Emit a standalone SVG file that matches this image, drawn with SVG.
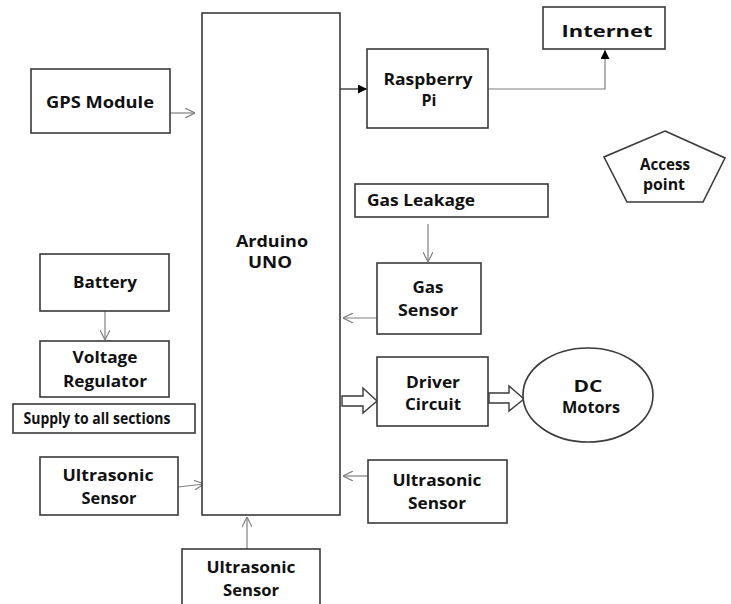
<svg xmlns="http://www.w3.org/2000/svg" width="731" height="604" viewBox="0 0 731 604">
<style>
.box{fill:#fff;stroke:#3a3a3a;stroke-width:1.6}
.t{font-family:"Open Sans","Liberation Sans",sans-serif;font-weight:bold;font-size:16px;fill:#111;text-anchor:middle}
.ln{fill:none;stroke:#808080;stroke-width:1.2}
.blk{fill:none;stroke:#3a3a3a;stroke-width:1.4}
.bar{fill:#fff;stroke:#3a3a3a;stroke-width:1.4}
</style>
<defs>
<marker id="open" viewBox="0 0 10 10" refX="10" refY="5" markerWidth="10" markerHeight="10" markerUnits="userSpaceOnUse" orient="auto">
<path d="M0,0 L10,5 L0,10" fill="none" stroke="#808080" stroke-width="1.2"/>
</marker>
<marker id="fill" viewBox="0 0 10 10" refX="10" refY="5" markerWidth="9" markerHeight="9" markerUnits="userSpaceOnUse" orient="auto">
<path d="M0,0 L10,5 L0,10 Z" fill="#000"/>
</marker>
</defs>
<rect width="731" height="604" fill="#fff"/>

<g id="connectors">
<line class="ln" x1="170" y1="113" x2="195" y2="113" marker-end="url(#open)"/>
<line class="blk" x1="340" y1="89" x2="367" y2="89" marker-end="url(#fill)"/>
<polyline class="ln" points="488,89 605,89 605,50" marker-end="url(#fill)"/>
<line class="ln" x1="428" y1="224" x2="428" y2="262" marker-end="url(#open)"/>
<line class="ln" x1="377" y1="318" x2="343" y2="318" marker-end="url(#open)"/>
<line class="ln" x1="105" y1="311" x2="105" y2="340" marker-end="url(#open)"/>
<line class="ln" x1="178" y1="487" x2="204" y2="484" marker-end="url(#open)"/>
<line class="ln" x1="368" y1="476" x2="343" y2="476" marker-end="url(#open)"/>
<line class="ln" x1="247" y1="549" x2="247" y2="517" marker-end="url(#open)"/>
<path class="bar" d="M342,396 L363,396 L363,388 L377,401 L363,413 L363,406 L342,406 Z"/>
<path class="bar" d="M489,393 L509,393 L509,386 L524,399 L509,411 L509,403 L489,403 Z"/>
</g>

<g id="arduino">
<rect class="box" x="202" y="13" width="138" height="502"/>
<text class="t" x="272" y="247" font-size="17" textLength="72" lengthAdjust="spacingAndGlyphs">Arduino</text>
<text class="t" x="270" y="268" font-size="17" textLength="44" lengthAdjust="spacingAndGlyphs">UNO</text>
</g>

<g id="gps">
<rect class="box" x="31" y="69" width="139" height="64"/>
<text class="t" x="100" y="108" font-size="17" textLength="108" lengthAdjust="spacingAndGlyphs">GPS Module</text>
</g>

<g id="raspberry">
<rect class="box" x="367" y="49" width="121" height="79"/>
<text class="t" x="428" y="85" font-size="17" textLength="89" lengthAdjust="spacingAndGlyphs">Raspberry</text>
<text class="t" x="429" y="106" font-size="17">Pi</text>
</g>

<g id="internet">
<rect class="box" x="543" y="7" width="122" height="42"/>
<text class="t" x="607" y="37" font-size="20" textLength="91" lengthAdjust="spacingAndGlyphs">Internet</text>
</g>

<g id="access-point">
<polygon class="box" points="665,131 725,158 703,202 627,202 604,157"/>
<text class="t" x="665" y="170" font-size="13.5" textLength="50" lengthAdjust="spacingAndGlyphs">Access</text>
<text class="t" x="664" y="190" font-size="13.5" textLength="42" lengthAdjust="spacingAndGlyphs">point</text>
</g>

<g id="gas-leakage">
<rect class="box" x="355" y="184" width="193" height="33"/>
<text class="t" x="421" y="206" font-size="15" textLength="108" lengthAdjust="spacingAndGlyphs">Gas Leakage</text>
</g>

<g id="gas-sensor">
<rect class="box" x="377" y="263" width="104" height="71"/>
<text class="t" x="428" y="293" font-size="16" textLength="31" lengthAdjust="spacingAndGlyphs">Gas</text>
<text class="t" x="428" y="316" font-size="16" textLength="60" lengthAdjust="spacingAndGlyphs">Sensor</text>
</g>

<g id="driver-circuit">
<rect class="box" x="377" y="357" width="111" height="69"/>
<text class="t" x="433" y="388" font-size="16" textLength="54" lengthAdjust="spacingAndGlyphs">Driver</text>
<text class="t" x="433" y="410" font-size="16" textLength="56" lengthAdjust="spacingAndGlyphs">Circuit</text>
</g>

<g id="dc-motors">
<ellipse class="box" cx="588" cy="395" rx="65" ry="47"/>
<text class="t" x="588" y="392" font-size="15" textLength="29" lengthAdjust="spacingAndGlyphs">DC</text>
<text class="t" x="591" y="413" font-size="15" textLength="58" lengthAdjust="spacingAndGlyphs">Motors</text>
</g>

<g id="battery">
<rect class="box" x="40" y="254" width="129" height="57"/>
<text class="t" x="105" y="288" font-size="16" textLength="64" lengthAdjust="spacingAndGlyphs">Battery</text>
</g>

<g id="voltage-regulator">
<rect class="box" x="40" y="341" width="129" height="56"/>
<text class="t" x="105" y="363" font-size="16" textLength="65" lengthAdjust="spacingAndGlyphs">Voltage</text>
<text class="t" x="105" y="387" font-size="16" textLength="84" lengthAdjust="spacingAndGlyphs">Regulator</text>
</g>

<g id="supply">
<rect class="box" x="13" y="404" width="182" height="29"/>
<text class="t" x="97" y="424" font-size="13" textLength="147" lengthAdjust="spacingAndGlyphs">Supply to all sections</text>
</g>

<g id="ultrasonic-left">
<rect class="box" x="40" y="457" width="138" height="58"/>
<text class="t" x="108" y="481" font-size="16" textLength="91" lengthAdjust="spacingAndGlyphs">Ultrasonic</text>
<text class="t" x="109" y="504" font-size="16" textLength="55" lengthAdjust="spacingAndGlyphs">Sensor</text>
</g>

<g id="ultrasonic-right">
<rect class="box" x="368" y="460" width="139" height="63"/>
<text class="t" x="437" y="486" font-size="16" textLength="89" lengthAdjust="spacingAndGlyphs">Ultrasonic</text>
<text class="t" x="437" y="509" font-size="16" textLength="58" lengthAdjust="spacingAndGlyphs">Sensor</text>
</g>

<g id="ultrasonic-bottom">
<rect class="box" x="182" y="549" width="138" height="70"/>
<text class="t" x="251" y="573" font-size="16" textLength="89" lengthAdjust="spacingAndGlyphs">Ultrasonic</text>
<text class="t" x="251" y="596" font-size="16" textLength="56" lengthAdjust="spacingAndGlyphs">Sensor</text>
</g>
</svg>
